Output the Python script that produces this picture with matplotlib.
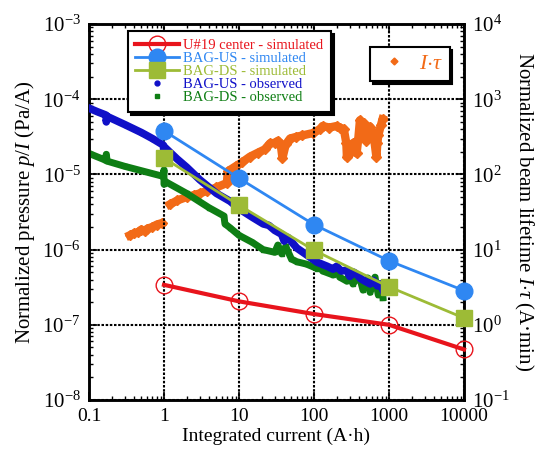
import numpy as np
import matplotlib
matplotlib.use("Agg")
import matplotlib.pyplot as plt
from matplotlib.lines import Line2D
from matplotlib.ticker import LogLocator, FixedLocator, FixedFormatter, NullFormatter

plt.rcParams['font.family'] = ['Liberation Serif', 'DejaVu Serif']
plt.rcParams['mathtext.fontset'] = 'custom'
plt.rcParams['mathtext.rm'] = 'Liberation Serif'
plt.rcParams['mathtext.it'] = 'Liberation Serif:italic'

# ---- simulated (per decade of integrated current)
x_sim = [1, 10, 100, 1000, 10000]
u19_sim = [3.4e-7, 2.05e-7, 1.39e-7, 1.0e-7, 4.7e-8]
us_sim = [3.8e-5, 8.9e-6, 2.15e-6, 7.1e-7, 2.85e-7]
ds_sim = [1.65e-5, 3.9e-6, 9.8e-7, 3.2e-7, 1.23e-7]

# ---- observed BAG-US
x_us = [0.1, 0.13, 0.165, 0.17, 0.17, 0.175, 0.3, 0.5, 0.7, 0.98, 1.0, 1.02, 1.5, 2, 3, 5,
        7.6, 10, 15, 21, 25, 30, 37, 40, 45, 59, 80, 110, 150, 180, 200, 230, 275, 300,
        340, 370, 420, 480, 560, 620, 700, 760, 830]
y_us = [7.6e-5, 6.8e-5, 6.2e-5, 6.1e-5, 5.0e-5, 5.9e-5, 4.6e-5, 3.6e-5, 3.0e-5, 2.45e-5,
        1.95e-5, 2.3e-5, 1.6e-5, 1.25e-5, 8.5e-6, 5.6e-6, 4.4e-6, 3.5e-6, 2.7e-6, 2.2e-6,
        2.1e-6, 1.8e-6, 1.6e-6, 1.3e-6, 1.45e-6, 1.05e-6, 8.5e-7, 6.8e-7, 6.0e-7, 5.5e-7,
        6.0e-7, 5.2e-7, 5.3e-7, 4.4e-7, 5.0e-7, 4.7e-7, 4.1e-7, 3.8e-7, 3.5e-7, 3.9e-7,
        3.3e-7, 3.5e-7, 2.9e-7]

# ---- observed BAG-DS
x_ds = [0.1, 0.165, 0.17, 0.175, 0.3, 0.5, 0.98, 1.0, 1.0, 1.05, 2, 4, 6.3, 6.5, 7.6, 10,
        15, 21, 30, 33, 37, 42, 50, 59, 80, 110, 115, 130, 180, 200, 220, 275, 300, 330,
        400, 450, 520, 560, 650, 720, 800, 830]
y_ds = [1.9e-5, 1.55e-5, 1.85e-5, 1.5e-5, 1.28e-5, 1.12e-5, 9.4e-6, 1.15e-5, 7.4e-6, 8.0e-6,
        5.6e-6, 3.6e-6, 2.8e-6, 2.2e-6, 1.95e-6, 1.55e-6, 1.25e-6, 1.0e-6, 9.2e-7, 1.15e-6,
        8.8e-7, 1.1e-6, 7.5e-7, 6.9e-7, 6.4e-7, 5.6e-7, 6.6e-7, 5.2e-7, 4.6e-7, 5.8e-7,
        4.3e-7, 3.8e-7, 4.9e-7, 3.5e-7, 4.5e-7, 2.9e-7, 4.2e-7, 2.7e-7, 4.3e-7, 2.5e-7,
        3.5e-7, 2.3e-7]

# ---- normalized lifetime I*tau (A min), right axis
x_it = [0.35, 0.4, 0.45, 0.5, 0.55, 0.6, 0.7, 0.8, 0.93, np.nan, 1.2, 1.5, 2.0, 2.5, 3.0,
        3.7, 5.0, 6.9, 7.1, 9, 11, 14, 18, 22, 26, 30, 33, 36, 38, 42, 48, 58, 70, 97, 120,
        130, 160, 200, 220, 250, 270, 275, 285, 300, 330, 370, 390, 410, 430, 460, 500,
        560, 620, 680, 700, 720, 780, 820]
y_it = [15.5, 16.5, 17, 18.5, 17.5, 19, 20, 21.5, 22.5, np.nan, 40, 45, 50, 53, 56, 60, 67,
        77, 110, 128, 145, 172, 195, 215, 260, 262, 280, 250, 165, 250, 300, 316, 330, 355,
        400, 440, 420, 440, 420, 400, 260, 170, 240, 190, 260, 190, 300, 525, 320, 480,
        280, 430, 350, 170, 260, 330, 450, 540]

c_red = '#e8141c'
c_bsim = '#2f87f2'
c_gsim = '#9dbb36'
c_bobs = '#1010c8'
c_gobs = '#0e7e14'
c_or = '#f26a17'

fig = plt.figure(figsize=(5.38, 4.53), dpi=100)
ax = fig.add_axes([0.1654, 0.117, 0.697, 0.830])
ax2 = ax.twinx()

ax2.plot(x_it, y_it, color=c_or, lw=6, marker='D', ms=5, zorder=1)

ax.set_zorder(ax2.get_zorder() + 1)
ax.patch.set_visible(False)

ax.plot(x_ds, y_ds, color=c_gobs, lw=5, marker='s', ms=3, zorder=2)
ax.plot(x_us, y_us, color=c_bobs, lw=5.5, marker='o', ms=3, zorder=3)
ax.plot(x_sim, ds_sim, color=c_gsim, lw=2, marker='s', ms=11, zorder=4, clip_on=False)
ax.plot(x_sim, us_sim, color=c_bsim, lw=2, marker='o', ms=12, zorder=5, clip_on=False)
ax.plot(x_sim, u19_sim, color=c_red, lw=3, marker='o', ms=12, mfc='none',
        mec=c_red, mew=1, zorder=6, clip_on=False)

ax.set_xscale('log')
ax.set_yscale('log')
ax.set_xlim(0.1, 10000)
ax.set_ylim(1e-8, 1e-3)
ax2.set_yscale('log')
ax2.set_ylim(0.1, 1e4)

xt = [0.1, 1, 10, 100, 1000, 10000]
xt_lab = ['0.1', '1', '10', '100', '1000', '10000']
ax.xaxis.set_major_locator(FixedLocator(xt))
ax.xaxis.set_major_formatter(FixedFormatter(xt_lab))
ax.xaxis.set_minor_locator(LogLocator(base=10, subs=np.arange(2, 10)))
ax.xaxis.set_minor_formatter(NullFormatter())

ax.grid(which='major', color='black', linestyle=(0, (1.2, 0.8)), linewidth=1.5)
for a in (ax, ax2):
    for s in a.spines.values():
        s.set_linewidth(1.8)
ax.tick_params(which='both', direction='in', top=True, right=False, pad=6)
ax.tick_params(axis='x', labelsize=14)
ax.tick_params(axis='y', labelsize=15)
ax.tick_params(which='major', length=6, width=1.2)
ax.tick_params(which='minor', length=3, width=1)
ax2.tick_params(which='both', direction='in', labelsize=15, pad=6)
ax2.tick_params(which='major', length=6, width=1.2)
ax2.tick_params(which='minor', length=3, width=1)

ax.set_xlabel('Integrated current (A·h)', fontsize=14, labelpad=2)
ax.set_ylabel('Normalized pressure $p/I$ (Pa/A)', fontsize=15, labelpad=4)
ax2.set_ylabel(r'Normalized beam lifetime $I{\cdot}\tau$ (A·min)', fontsize=15,
               rotation=270, labelpad=18)

shadow = {'color': 'black', 'alpha': 1}

h2 = [Line2D([], [], color=c_or, ls='none', marker='D', ms=3.5)]
leg2 = ax.legend(h2, [r'$I{\cdot}\tau$'], loc='upper left', bbox_to_anchor=(0.749, 0.939),
                 fontsize=16, frameon=True, fancybox=False, edgecolor='black',
                 framealpha=1, shadow=shadow, handlelength=1.6, handletextpad=0.3,
                 borderpad=0.3, borderaxespad=0)
leg2.get_frame().set_linewidth(1.5)
leg2.get_texts()[0].set_color(c_or)
ax.add_artist(leg2)

h1 = [Line2D([], [], color=c_red, lw=3, marker='o', ms=12, mfc='none', mec=c_red, mew=1),
      Line2D([], [], color=c_bsim, lw=2, marker='o', ms=12),
      Line2D([], [], color=c_gsim, lw=2, marker='s', ms=11),
      Line2D([], [], color=c_bobs, ls='none', marker='o', ms=3.5),
      Line2D([], [], color=c_gobs, ls='none', marker='s', ms=3.5)]
l1 = ['U#19 center - simulated', 'BAG-US - simulated', 'BAG-DS - simulated',
      'BAG-US - observed', 'BAG-DS - observed']
leg = ax.legend(h1, l1, loc='upper left', bbox_to_anchor=(0.104, 0.981), fontsize=10.5,
                frameon=True, fancybox=False, edgecolor='black', framealpha=1,
                shadow=shadow, labelspacing=0.0, handlelength=3.0, handletextpad=0.3,
                borderpad=0.5, borderaxespad=0)
leg.get_frame().set_linewidth(1.5)
for t, c in zip(leg.get_texts(), [c_red, c_bsim, c_gsim, c_bobs, c_gobs]):
    t.set_color(c)

fig.savefig('out.png', dpi=100)
